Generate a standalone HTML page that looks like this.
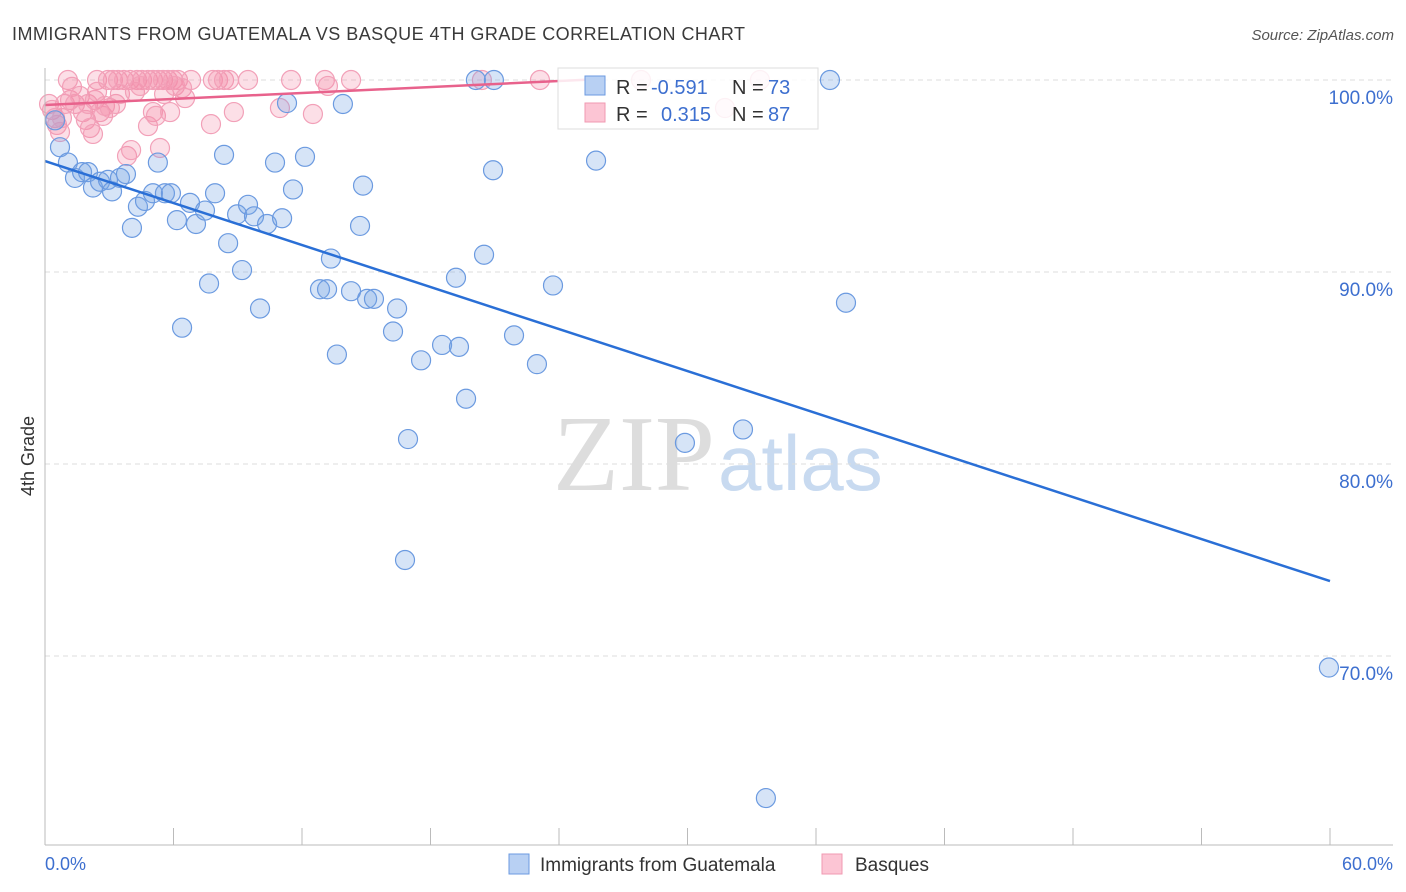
<!DOCTYPE html>
<html><head><meta charset="utf-8"><style>
body{margin:0;background:#fff;font-family:"Liberation Sans",sans-serif;}
#c{position:relative;width:1406px;height:892px;overflow:hidden}
</style></head><body>
<div id="c">
<svg id="s" width="1406" height="892" xmlns="http://www.w3.org/2000/svg">
<text x="12" y="40" font-size="18" fill="#3a3a3a" textLength="733">IMMIGRANTS FROM GUATEMALA VS BASQUE 4TH GRADE CORRELATION CHART</text>
<text x="1394" y="40" font-size="15" fill="#555" font-style="italic" text-anchor="end">Source: ZipAtlas.com</text>
<text x="34" y="456" font-size="18" fill="#333" transform="rotate(-90 34 456)" text-anchor="middle">4th Grade</text>
<g><text x="553" y="490" font-size="108" font-family="Liberation Serif,serif" fill="#ddd">ZIP</text><text x="718" y="490" font-size="78" fill="#c8daf0">atlas</text></g>
<g id="grid"></g><g id="pts"></g><g id="lines"></g>
<line x1="45" y1="68" x2="45" y2="845" stroke="#bbb"/>
<line x1="45" y1="845" x2="1393" y2="845" stroke="#bbb"/>
<text x="45" y="870" font-size="18" fill="#3d6fcf">0.0%</text>
<text x="1393" y="870" font-size="18" fill="#3d6fcf" text-anchor="end">60.0%</text>
<g>
<rect x="558" y="68" width="260" height="61" fill="#fff" fill-opacity="0.85" stroke="#ddd"/>
<rect x="585" y="76" width="20" height="19" fill="#b8d0f3" stroke="#6b9ae0"/>
<text x="616" y="94" font-size="20" fill="#333">R = </text><text x="651" y="94" font-size="20" fill="#3d6fcf">-0.591</text>
<text x="732" y="94" font-size="20" fill="#333">N = </text><text x="768" y="94" font-size="20" fill="#3d6fcf">73</text>
<rect x="585" y="103" width="20" height="19" fill="#fcc5d4" stroke="#f099b2"/>
<text x="616" y="121" font-size="20" fill="#333">R = </text><text x="661" y="121" font-size="20" fill="#3d6fcf">0.315</text>
<text x="732" y="121" font-size="20" fill="#333">N = </text><text x="768" y="121" font-size="20" fill="#3d6fcf">87</text>
</g>
<g>
<rect x="509" y="854" width="20" height="20" fill="#b8d0f3" stroke="#6b9ae0"/>
<text x="540" y="871" font-size="19" fill="#333">Immigrants from Guatemala</text>
<rect x="822" y="854" width="20" height="20" fill="#fcc5d4" stroke="#f099b2"/>
<text x="855" y="871" font-size="19" fill="#333">Basques</text>
</g>
</svg></div>
<script>
const yTicks=[100,90,80,70];
const blueX=[0.47,0.7,1.07,1.4,1.73,2.01,2.24,2.57,2.94,3.13,3.5,3.78,4.06,4.34,4.67,5.04,5.27,5.6,5.88,6.16,6.4,6.77,7.05,7.47,7.66,7.94,8.36,8.55,8.97,9.2,9.48,9.76,10.04,10.37,10.74,11.07,11.3,11.58,12.14,12.84,13.17,13.35,13.63,13.91,14.29,14.71,14.85,15.04,15.36,16.25,16.44,16.81,16.95,17.56,18.54,19.19,19.33,19.66,20.12,20.5,20.92,20.96,21.9,22.97,23.72,25.73,29.88,32.59,33.66,36.65,37.4,59.95];
const blueY=[97.9,96.5,95.7,94.9,95.2,95.2,94.4,94.7,94.8,94.2,94.9,95.1,92.3,93.4,93.7,94.1,95.7,94.1,94.1,92.7,87.1,93.6,92.5,93.2,89.4,94.1,96.1,91.5,93.0,90.1,93.5,92.9,88.1,92.5,95.7,92.8,98.8,94.3,96.0,89.1,89.1,90.7,85.7,98.75,89.0,92.4,94.5,88.6,88.6,86.9,88.1,75.0,81.3,85.4,86.2,89.7,86.1,83.4,100,90.9,95.3,100,86.7,85.2,89.3,95.8,81.1,81.8,62.6,100,88.4,69.4];
const pinkX=[1.07,2.43,2.94,3.17,3.41,3.69,3.97,4.3,4.53,4.81,5.04,5.28,5.51,5.74,5.98,6.21,6.82,7.84,8.08,8.36,8.59,9.48,11.49,13.07,14.29,20.4,23.11,27.83,33.38,
0.19,0.33,0.47,0.56,0.7,0.79,0.93,1.17,1.26,1.4,1.63,1.77,1.91,2.01,2.1,2.24,2.33,2.43,2.57,2.71,2.8,3.03,3.31,3.5,3.83,4.02,4.2,4.44,4.81,5.04,5.18,5.37,5.56,5.84,6.07,6.4,6.54,7.75,8.82,10.97,12.51,13.21,31.75];
const pinkY=[100,100,100,100,100,100,100,100,100,100,100,100,100,100,100,100,100,100,100,100,100,100,100,100,100,100,100,100,100,
98.75,98.44,98.02,97.66,97.29,98.02,98.75,98.96,99.64,98.75,99.17,98.33,97.92,98.75,97.5,97.19,98.96,99.38,98.33,98.13,98.65,98.54,98.75,99.27,96.04,96.35,99.38,99.69,97.6,98.33,98.13,96.46,99.27,98.33,99.69,99.58,99.06,97.7,98.33,98.54,98.23,99.69,98.54];
const blueTrend=[[0,95.78],[60,73.9]];
const pinkTrend=[[0,98.7],[26,100.05]];
const sx=v=>45+v*1285/60, sy=v=>80+(100-v)*19.2;
const NS='http://www.w3.org/2000/svg';
function mk(t,a,p){const e=document.createElementNS(NS,t);for(const k in a)e.setAttribute(k,a[k]);p.appendChild(e);return e;}
const g=document.getElementById('grid');
yTicks.forEach(t=>{
 const l=mk('line',{x1:45,x2:1393,y1:sy(t),y2:sy(t),stroke:'#ddd','stroke-dasharray':'5,4'},g);
 
 
 const tx=mk('text',{x:1393,y:sy(t)+24,'font-size':19,fill:'#3d6fcf','text-anchor':'end'},g);
 tx.textContent=t.toFixed(1)+'%';
 
 
});
for(let i=1;i<=10;i++){
 const l=mk('line',{x1:sx(i*6),x2:sx(i*6),y1:828,y2:845,stroke:'#bbb'},g);
 
 
}
const p=document.getElementById('pts');
pinkX.forEach((x,i)=>{const c=mk('circle',{cx:sx(x),cy:sy(pinkY[i]),r:9.5,fill:'rgba(245,140,170,0.28)',stroke:'#f2a0b8','stroke-width':1.2},p);
 
 });
blueX.forEach((x,i)=>{const c=mk('circle',{cx:sx(x),cy:sy(blueY[i]),r:9.5,fill:'rgba(120,165,230,0.3)',stroke:'#6b9ae0','stroke-width':1.2},p);
 
 });
const L=document.getElementById('lines');
const b=mk('line',{x1:sx(blueTrend[0][0]),y1:sy(blueTrend[0][1]),x2:sx(blueTrend[1][0]),y2:sy(blueTrend[1][1]),stroke:'#2a6fd6','stroke-width':2.5},L);


const pk=mk('line',{x1:sx(pinkTrend[0][0]),y1:sy(pinkTrend[0][1]),x2:sx(pinkTrend[1][0]),y2:sy(pinkTrend[1][1]),stroke:'#e8628c','stroke-width':2.5},L);


</script>
</body></html>
